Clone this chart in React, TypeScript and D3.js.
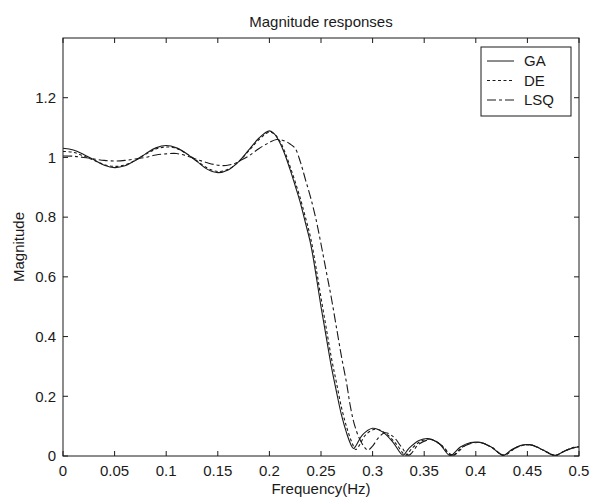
import React from "react";
import * as d3 from "d3";

const W = 590;
const H = 497;
const margin = { left: 63, right: 11, top: 38, bottom: 41 };

const xTicks = [0, 0.05, 0.1, 0.15, 0.2, 0.25, 0.3, 0.35, 0.4, 0.45, 0.5];
const xTickLabels = ["0", "0.05", "0.1", "0.15", "0.2", "0.25", "0.3", "0.35", "0.4", "0.45", "0.5"];
const yTicks = [0, 0.2, 0.4, 0.6, 0.8, 1, 1.2];
const yTickLabels = ["0", "0.2", "0.4", "0.6", "0.8", "1", "1.2"];

const seriesNames = ["GA", "DE", "LSQ"];

// [frequency, magnitude]
const gaData: [number, number][] = [
  [0, 1.031], [0.01, 1.025], [0.02, 1.01], [0.03, 0.992], [0.04, 0.974], [0.05, 0.966],
  [0.06, 0.972], [0.07, 0.99], [0.08, 1.012], [0.09, 1.032], [0.1, 1.04], [0.11, 1.032],
  [0.12, 1.012], [0.13, 0.986], [0.14, 0.96], [0.15, 0.949], [0.16, 0.958], [0.17, 0.985],
  [0.18, 1.025], [0.19, 1.065], [0.2, 1.089], [0.205, 1.078], [0.21, 1.05], [0.215, 1.01],
  [0.22, 0.96], [0.225, 0.905], [0.23, 0.848], [0.235, 0.78], [0.24, 0.71], [0.245, 0.61],
  [0.25, 0.5], [0.255, 0.4], [0.26, 0.3], [0.265, 0.215], [0.27, 0.135], [0.275, 0.075],
  [0.279, 0.038], [0.2815, 0.025], [0.284, 0.035], [0.29, 0.07], [0.3, 0.093], [0.31, 0.08],
  [0.32, 0.045], [0.3295, 0.003], [0.335, 0.025], [0.345, 0.052], [0.355, 0.058], [0.365, 0.04],
  [0.375, 0.002], [0.385, 0.03], [0.395, 0.045], [0.404, 0.046], [0.415, 0.03], [0.4265, 0.002],
  [0.435, 0.022], [0.445, 0.037], [0.455, 0.036], [0.465, 0.02], [0.477, 0.002], [0.485, 0.015],
  [0.495, 0.028], [0.5, 0.03],
];

const deData: [number, number][] = [
  [0, 1.02], [0.01, 1.017], [0.02, 1.005], [0.03, 0.99], [0.04, 0.976], [0.05, 0.97],
  [0.06, 0.975], [0.07, 0.99], [0.08, 1.01], [0.09, 1.028], [0.1, 1.035], [0.11, 1.03],
  [0.12, 1.012], [0.13, 0.988], [0.14, 0.964], [0.15, 0.953], [0.16, 0.96], [0.17, 0.985],
  [0.18, 1.022], [0.19, 1.06], [0.2, 1.085], [0.205, 1.078], [0.21, 1.055], [0.215, 1.018],
  [0.22, 0.97], [0.225, 0.918], [0.23, 0.862], [0.235, 0.798], [0.24, 0.73], [0.245, 0.635],
  [0.25, 0.53], [0.255, 0.43], [0.26, 0.33], [0.265, 0.245], [0.27, 0.16], [0.275, 0.095],
  [0.28, 0.045], [0.2835, 0.022], [0.287, 0.035], [0.293, 0.07], [0.303, 0.09], [0.313, 0.075],
  [0.323, 0.04], [0.332, 0.003], [0.338, 0.025], [0.347, 0.05], [0.356, 0.056], [0.366, 0.038],
  [0.377, 0.002], [0.387, 0.03], [0.396, 0.044], [0.405, 0.045], [0.416, 0.028], [0.427, 0.002],
  [0.436, 0.022], [0.446, 0.036], [0.456, 0.035], [0.466, 0.019], [0.477, 0.002], [0.486, 0.016],
  [0.495, 0.029], [0.5, 0.031],
];

const lsqData: [number, number][] = [
  [0, 1.005], [0.01, 1.004], [0.02, 1.0], [0.03, 0.995], [0.04, 0.99], [0.05, 0.988],
  [0.06, 0.99], [0.07, 0.995], [0.08, 1.0], [0.09, 1.008], [0.1, 1.012], [0.11, 1.013],
  [0.12, 1.005], [0.13, 0.993], [0.14, 0.982], [0.15, 0.974], [0.158, 0.973], [0.165, 0.978],
  [0.172, 0.99], [0.18, 1.005], [0.19, 1.03], [0.2, 1.05], [0.207, 1.06], [0.215, 1.055],
  [0.22, 1.045], [0.225, 1.03], [0.23, 0.985], [0.235, 0.925], [0.24, 0.865], [0.245, 0.795],
  [0.25, 0.71], [0.255, 0.62], [0.26, 0.53], [0.265, 0.43], [0.27, 0.33], [0.275, 0.24],
  [0.278, 0.175], [0.282, 0.11], [0.287, 0.06], [0.292, 0.03], [0.2955, 0.02], [0.3, 0.033],
  [0.305, 0.058], [0.312, 0.078], [0.32, 0.065], [0.328, 0.03], [0.335, 0.003], [0.345, 0.04],
  [0.357, 0.055], [0.367, 0.035], [0.378, 0.003], [0.39, 0.035], [0.403, 0.045], [0.415, 0.03],
  [0.427, 0.003], [0.44, 0.03], [0.452, 0.038], [0.465, 0.02], [0.476, 0.002], [0.488, 0.02],
  [0.5, 0.032],
];

const seriesData = [gaData, deData, lsqData];
const dashes = ["none", "3,2.5", "9,3,3,3"];

export default function App() {
  const x = d3.scaleLinear().domain([0, 0.5]).range([margin.left, W - margin.right]);
  const y = d3.scaleLinear().domain([0, 1.4]).range([H - margin.bottom, margin.top]);
  const line = d3
    .line<[number, number]>()
    .x((d) => x(d[0]))
    .y((d) => y(d[1]))
    .curve(d3.curveCatmullRom.alpha(0.5));

  const x0 = x(0), x1 = x(0.5), y0 = y(0), y1 = y(1.4);
  const font = "'Liberation Sans', Arial, sans-serif";
  const fs = 15;
  const tickLen = 5;
  const ink = "#1a1a1a";

  const legX = 481, legY = 47, legW = 90, legH = 69;

  return (
    <svg
      width={W}
      height={H}
      style={{ position: "absolute", left: 0, top: 0, background: "#fff" }}
      fontFamily={font}
    >
      <rect x={0} y={0} width={W} height={H} fill="#fff" />
      <defs>
        <clipPath id="plotclip">
          <rect x={x0} y={y1} width={x1 - x0} height={y0 - y1} />
        </clipPath>
      </defs>
      {/* series */}
      <g clipPath="url(#plotclip)">
        {seriesData.map((d, i) => (
          <path
            key={i}
            d={line(d) || ""}
            fill="none"
            stroke={ink}
            strokeWidth={1.1}
            strokeDasharray={dashes[i]}
          />
        ))}
      </g>
      {/* box */}
      <rect x={x0} y={y1} width={x1 - x0} height={y0 - y1} fill="none" stroke={ink} strokeWidth={1} />
      {/* x ticks */}
      {xTicks.map((t, i) => (
        <g key={"x" + i}>
          <line x1={x(t)} x2={x(t)} y1={y0} y2={y0 - tickLen} stroke={ink} />
          <line x1={x(t)} x2={x(t)} y1={y1} y2={y1 + tickLen} stroke={ink} />
          <text x={x(t)} y={y0 + 19.5} fontSize={fs} textAnchor="middle" fill={ink}>
            {xTickLabels[i]}
          </text>
        </g>
      ))}
      {/* y ticks */}
      {yTicks.map((t, i) => (
        <g key={"y" + i}>
          <line x1={x0} x2={x0 + tickLen} y1={y(t)} y2={y(t)} stroke={ink} />
          <line x1={x1} x2={x1 - tickLen} y1={y(t)} y2={y(t)} stroke={ink} />
          <text x={x0 - 7} y={y(t) + 5.3} fontSize={fs} textAnchor="end" fill={ink}>
            {yTickLabels[i]}
          </text>
        </g>
      ))}
      {/* title & labels */}
      <text x={(x0 + x1) / 2} y={27} fontSize={fs} textAnchor="middle" fill={ink}>
        Magnitude responses
      </text>
      <text x={(x0 + x1) / 2} y={494} fontSize={fs} textAnchor="middle" fill={ink}>
        Frequency(Hz)
      </text>
      <text
        transform={`translate(24,${(y0 + y1) / 2}) rotate(-90)`}
        fontSize={fs}
        textAnchor="middle"
        fill={ink}
      >
        Magnitude
      </text>
      {/* legend */}
      <rect x={legX} y={legY} width={legW} height={legH} fill="#fff" stroke={ink} strokeWidth={1} />
      {seriesNames.map((n, i) => {
        const ly = legY + 14 + i * 19.5;
        return (
          <g key={n}>
            <line x1={legX + 6} x2={legX + 33} y1={ly} y2={ly} stroke={ink} strokeDasharray={dashes[i]} />
            <text x={legX + 43} y={ly + 5.3} fontSize={fs} fill={ink}>
              {n}
            </text>
          </g>
        );
      })}
    </svg>
  );
}
